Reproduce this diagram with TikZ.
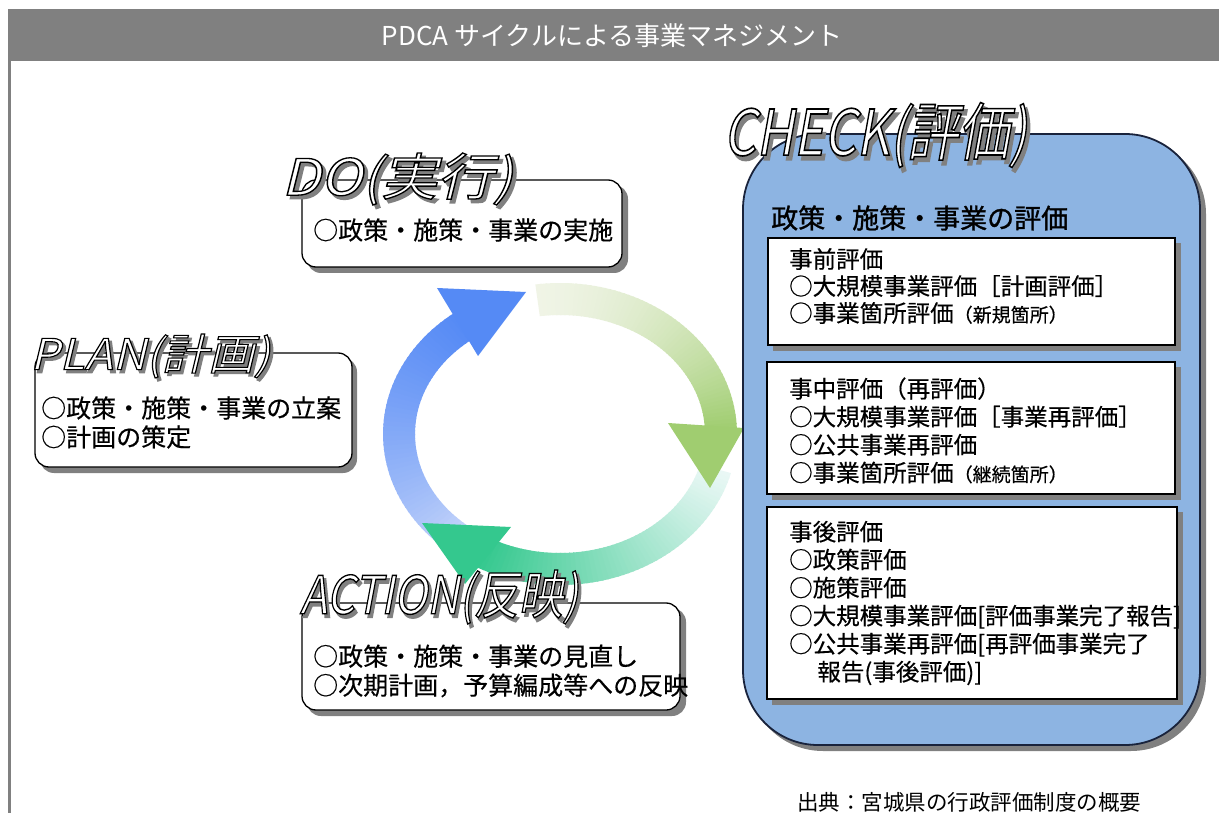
\documentclass[tikz,border=0pt]{standalone}
\usepackage{fontspec}
\setmainfont[FakeBold=0.4]{Noto Sans CJK JP}
\newfontfamily\jpb[FakeBold=1.2]{Noto Sans CJK JP}
\newfontfamily\ttlf[FakeSlant=0.22]{Noto Sans CJK JP}
\newfontfamily\barf{Noto Sans CJK JP}
\usetikzlibrary{calc}
\definecolor{barg}{RGB}{128,128,128}
\definecolor{checkblue}{RGB}{141,180,226}
\definecolor{checkline}{RGB}{25,35,60}
\definecolor{shadowg}{RGB}{128,128,128}
\definecolor{bluehead}{RGB}{85,138,245}
\definecolor{bluetail}{RGB}{232,236,252}
\definecolor{greenhead}{RGB}{160,205,112}
\definecolor{greentail}{RGB}{240,244,230}
\definecolor{tealhead}{RGB}{52,200,142}
\definecolor{tealtail}{RGB}{235,248,246}
\newcommand\ringpiece[3]{\fill[#3] ({560+177*cos(#1)},{434+151*sin(#1)}) -- ({560+177*cos(#2)},{434+151*sin(#2)}) -- ({560+145*cos(#2)},{434+119*sin(#2)}) -- ({560+145*cos(#1)},{434+119*sin(#1)}) -- cycle;}
\newcommand\ringshaft[5]{%
  \foreach \i in {0,...,59}{%
    \pgfmathsetmacro\rpa{#1+\i*(#2-#1)/60}%
    \pgfmathsetmacro\rpb{min(#1+(\i+1)*(#2-#1)/60+0.5,#2)}%
    \pgfmathsetmacro\rpt{100*pow((\i+1)/60,#5)}%
    \ringpiece{\rpa}{\rpb}{#3!\rpt!#4}%
  }}
% outlined text: fill with current colour, stroke with black / same colour
\newcommand\outlblack[1]{\special{pdf:literal direct 0 G 2 Tr 1.3 w}#1\special{pdf:literal direct 0 Tr}}
\newcommand\outlsame[1]{\special{pdf:literal direct 2 Tr 1.6 w}#1\special{pdf:literal direct 0 Tr}}
\newcommand\ptitle[5]{%
  \node[inner sep=0] (#1) at (#2) {\resizebox*{#3}{#4}{\ttlf\fontsize{50}{50}\selectfont
    \rlap{\smash{\hspace{3pt}\raisebox{-3.5pt}{\textcolor{shadowg}{\outlsame{#5}}}}}%
    \textcolor{white}{\outlblack{#5}}}};}
\tikzset{
  boxshadow/.style={fill=shadowg, rounded corners=14},
  roundbox/.style={draw=black, line width=1.3, fill=white, rounded corners=14},
  innershadow/.style={fill=shadowg},
  innerbox/.style={draw=black, line width=1.3, fill=white},
  bodytext/.style={anchor=west, align=left, inner sep=0, font=\fontsize{25}{29}\selectfont},
  innertext/.style={anchor=west, align=left, inner sep=0, font=\fontsize{23.5}{28}\selectfont},
}
\begin{document}
\begin{tikzpicture}[x=1pt,y=-1pt]
\useasboundingbox (0,0) rectangle (1219,813);
\fill[white] (0,0) rectangle (1219,813);
% title bar and frame
\fill[barg] (8,9) rectangle (1219,61);
\fill[barg] (7.5,59) rectangle (10.5,813);
\node[text=white, font=\barf\fontsize{26}{26}\selectfont] (bartitle) at (612,36) {PDCA サイクルによる事業マネジメント};
% cycle arrows
\ringshaft{120}{235}{bluehead}{bluetail}{0.6}
\ringshaft{262}{359}{greenhead}{greentail}{1.6}
\ringshaft{15}{119}{tealhead}{tealtail}{1.1}
\fill[bluehead] (437,288) -- (526,292) -- (478,356) -- cycle;
\fill[greenhead] (668,423) -- (744,428) -- (710,488) -- cycle;
\fill[tealhead] (422,523) -- (511,527) -- (465,584) -- cycle;
% DO
\fill[boxshadow] (307,185) rectangle (628,273);
\draw[roundbox] (302,180) rectangle (622,267);
\node[bodytext] (dotxt) at (313,230) {○政策・施策・事業の実施};
\ptitle{dottl}{397,179}{231pt}{52pt}{DO(実行)}
% PLAN
\fill[boxshadow] (40,358) rectangle (357,473);
\draw[roundbox] (35,353) rectangle (352,467);
\node[bodytext] (plantxt) at (41,422.5) {○政策・施策・事業の立案\\○計画の策定};
\ptitle{planttl}{150,356}{240pt}{44pt}{PLAN(計画)}
% ACTION
\fill[boxshadow] (307,608) rectangle (686,716);
\draw[roundbox] (302,603) rectangle (680,710);
\node[bodytext] (acttxt) at (313,671) {○政策・施策・事業の見直し\\○次期計画，予算編成等への反映};
\ptitle{actttl}{439,597}{278pt}{54pt}{ACTION(反映)}
% CHECK
\fill[shadowg, rounded corners=75] (748,139) rectangle (1206,751);
\draw[checkline, line width=1.8, fill=checkblue, rounded corners=75] (743,134) rectangle (1200,745);
\node[anchor=west, inner sep=0, font=\jpb\fontsize{27}{27}\selectfont] (chkhead) at (771,218) {政策・施策・事業の評価};
\fill[innershadow] (773,243) rectangle (1181,351);
\draw[innerbox] (768,238) rectangle (1175,345);
\node[innertext, font=\fontsize{23.5}{27}\selectfont] (pre) at (789,286) {事前評価\\○大規模事業評価［計画評価］\\○事業箇所評価{\fontsize{19}{19}\selectfont（新規箇所）}};
\fill[innershadow] (772,367) rectangle (1181,500);
\draw[innerbox] (767,362) rectangle (1175,494);
\node[innertext] (mid) at (789,430.5) {事中評価（再評価）\\○大規模事業評価［事業再評価］\\○公共事業再評価\\○事業箇所評価{\fontsize{19}{19}\selectfont（継続箇所）}};
\fill[innershadow] (772,512) rectangle (1183,705);
\draw[innerbox] (767,507) rectangle (1177,699);
\node[innertext] (post) at (789,603) {事後評価\\○政策評価\\○施策評価\\○大規模事業評価[評価事業完了報告]\\○公共事業再評価[再評価事業完了\\\hspace*{1.2em}報告(事後評価)]};
\ptitle{chkttl}{875,135}{303pt}{65pt}{CHECK(評価)}
% source
\node[anchor=west, inner sep=0, font=\barf\fontsize{21.5}{22}\selectfont] (src) at (797,802) {出典：宮城県の行政評価制度の概要};
\end{tikzpicture}
\end{document}
